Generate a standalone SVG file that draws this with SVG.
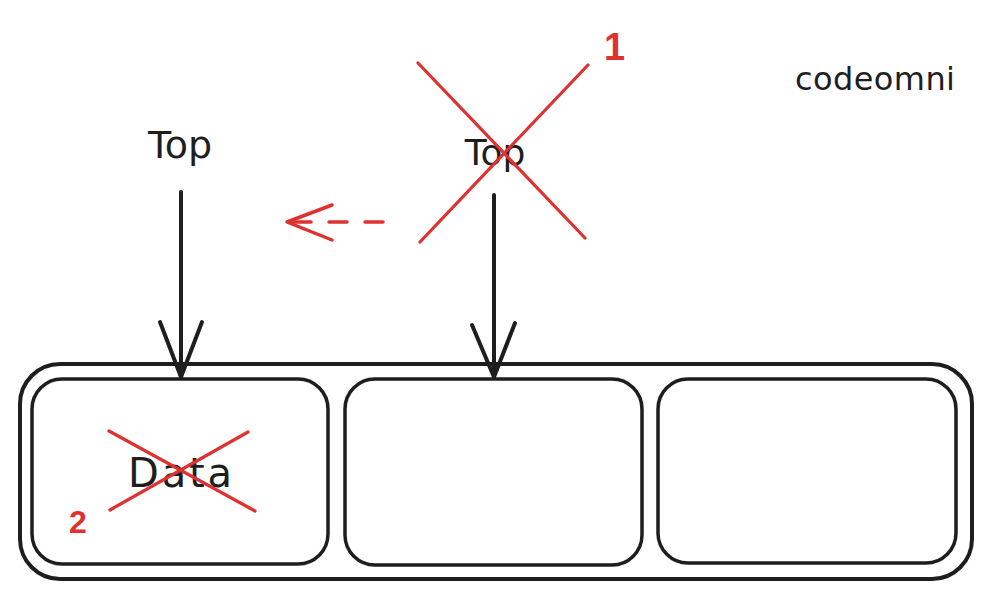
<svg xmlns="http://www.w3.org/2000/svg" width="991" height="599" viewBox="0 0 991 599">
  <style>
    .ink { fill: none; stroke: #1e1e1e; stroke-linecap: round; stroke-linejoin: round; }
    .red { fill: none; stroke: #e03131; stroke-linecap: round; stroke-linejoin: round; }
    .lbl { font-family: "DejaVu Sans", "Liberation Sans", sans-serif; fill: #1e1e1e; }
    .rlbl { font-family: "Liberation Sans", "DejaVu Sans", sans-serif; fill: #e03131; font-weight: bold; }
  </style>
  <rect width="991" height="599" fill="#ffffff"/>

  <g id="container">
    <rect class="ink" x="20" y="364" width="952" height="215" rx="40" stroke-width="4"/>
  </g>
  <g id="cell-1">
    <rect class="ink" x="32" y="379" width="296" height="185" rx="30" stroke-width="3.5"/>
    <text class="lbl" x="128" y="487" font-size="40" textLength="104" lengthAdjust="spacing">Data</text>
  </g>
  <g id="cell-2">
    <rect class="ink" x="345" y="379" width="297" height="186" rx="30" stroke-width="3.5"/>
  </g>
  <g id="cell-3">
    <rect class="ink" x="658" y="379" width="298" height="184" rx="30" stroke-width="3.5"/>
  </g>
  <g id="top-new">
    <text class="lbl" x="180" y="158" font-size="38" text-anchor="middle">Top</text>
  </g>
  <g id="top-old">
    <text class="lbl" x="495" y="165" font-size="36" text-anchor="middle">Top</text>
  </g>
  <g id="watermark">
    <text class="lbl" x="795" y="90" font-size="32" textLength="160" lengthAdjust="spacing">codeomni</text>
  </g>

  <g id="connectors">
    <path class="ink" stroke-width="4" d="M181 192 L181 377"/>
    <path class="ink" stroke-width="4" d="M160 322 L181 377 L202 322"/>
    <path class="ink" stroke-width="4" d="M494 195 L494 377"/>
    <path class="ink" stroke-width="4" d="M472 325 L494 377 L515 323"/>
    <path class="red" stroke-width="3.5" stroke-dasharray="18 18" d="M383 222 L290 222"/>
    <path class="red" stroke-width="3.5" d="M332 205 L287 222 L332 240"/>
  </g>

  <g id="annotations">
    <path class="red" stroke-width="3.2" d="M418 63 L585 238 M588 65 L420 242"/>
    <text class="rlbl" x="604" y="60" font-size="38">1</text>
    <path class="red" stroke-width="3.2" d="M109 431 L255 511 M248 432 L110 510"/>
    <text class="rlbl" x="69" y="533" font-size="32">2</text>
  </g>
</svg>
